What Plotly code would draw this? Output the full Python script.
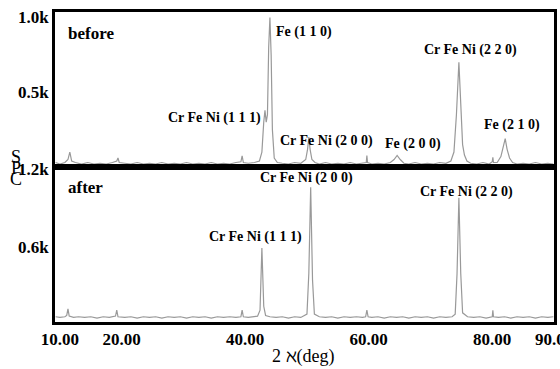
import plotly.graph_objects as go
from plotly.subplots import make_subplots

# ---- data (2theta in deg, intensity in k counts) ----
before_x = [9.3, 10.0, 10.8, 11.3, 11.6, 11.9, 12.5, 13.5, 14.5, 15.5, 16.5, 17.5, 18.5, 19.2, 19.4, 19.6,
            20.5, 21.5, 22.5, 23.5, 24.5, 25.5, 26.5, 27.5, 28.5, 29.5, 30.5, 31.5, 32.5, 33.5, 34.5, 35.5,
            36.5, 37.5, 38.5, 39.3, 39.5, 39.7, 40.5, 41.5, 42.3, 42.7, 43.0, 43.2, 43.4, 43.6, 43.8, 44.0,
            44.2, 44.4, 44.7, 45.2, 46.0, 47.0, 48.0, 49.0, 49.8, 50.1, 50.3, 50.5, 50.8, 51.3, 52.0, 53.0,
            54.0, 55.0, 56.0, 57.0, 58.0, 59.0, 59.6, 59.7, 59.8, 60.5, 61.5, 62.5, 63.5, 64.1, 64.6, 65.1,
            65.7, 66.5, 67.5, 68.5, 69.5, 70.5, 71.5, 72.5, 73.3, 73.8, 74.2, 74.6, 74.9, 75.2, 75.5, 75.9,
            76.5, 77.5, 78.5, 79.5, 80.0, 80.1, 80.2, 80.8, 81.4, 81.8, 82.1, 82.4, 82.8, 83.3, 84.0, 85.0,
            86.0, 87.0, 88.0, 89.0, 89.9]
before_y = [0.03, 0.02, 0.03, 0.05, 0.10, 0.04, 0.03, 0.02, 0.03, 0.02, 0.025, 0.02, 0.03, 0.04, 0.06, 0.03,
            0.025, 0.02, 0.03, 0.02, 0.025, 0.02, 0.03, 0.02, 0.025, 0.02, 0.03, 0.02, 0.025, 0.02, 0.03, 0.02,
            0.025, 0.02, 0.03, 0.035, 0.075, 0.03, 0.025, 0.03, 0.04, 0.10, 0.30, 0.38, 0.30, 0.35, 0.80, 1.0,
            0.75, 0.25, 0.06, 0.03, 0.025, 0.02, 0.03, 0.025, 0.05, 0.12, 0.20, 0.12, 0.05, 0.03, 0.02, 0.03,
            0.02, 0.025, 0.02, 0.03, 0.02, 0.025, 0.03, 0.077, 0.03, 0.02, 0.025, 0.02, 0.03, 0.05, 0.077, 0.05,
            0.025, 0.02, 0.03, 0.02, 0.025, 0.02, 0.03, 0.025, 0.04, 0.10, 0.35, 0.70, 0.40, 0.15, 0.08, 0.04,
            0.025, 0.02, 0.03, 0.02, 0.035, 0.064, 0.03, 0.03, 0.07, 0.15, 0.19, 0.12, 0.06, 0.03, 0.02, 0.025,
            0.02, 0.03, 0.02, 0.025, 0.02]

after_x = [9.3, 10.0, 10.8, 11.1, 11.3, 11.5, 12.2, 13.0, 14.0, 15.0, 16.0, 17.0, 18.0, 19.0, 19.2, 19.4,
           20.5, 21.5, 22.5, 23.5, 24.5, 25.5, 26.5, 27.5, 28.5, 29.5, 30.5, 31.5, 32.5, 33.5, 34.5, 35.5,
           36.5, 37.5, 38.5, 39.3, 39.5, 39.7, 40.5, 41.5, 42.0, 42.4, 42.7, 43.0, 43.3, 44.0, 45.0, 46.0,
           47.0, 48.0, 49.0, 50.0, 50.3, 50.6, 50.9, 51.2, 52.0, 53.0, 54.0, 55.0, 56.0, 57.0, 58.0, 59.0,
           59.5, 59.7, 59.9, 60.5, 61.5, 62.5, 63.5, 64.5, 65.5, 66.5, 67.5, 68.5, 69.5, 70.5, 71.5, 72.5,
           73.5, 74.0, 74.3, 74.6, 74.9, 75.2, 76.0, 77.0, 78.0, 79.0, 80.0, 80.1, 80.2, 81.0, 82.0, 83.0,
           84.0, 85.0, 86.0, 87.0, 88.0, 89.0, 89.9]
after_y = [0.07, 0.065, 0.07, 0.08, 0.13, 0.075, 0.065, 0.07, 0.065, 0.07, 0.06, 0.07, 0.065, 0.075, 0.12, 0.07,
           0.065, 0.07, 0.06, 0.07, 0.065, 0.07, 0.06, 0.07, 0.065, 0.07, 0.06, 0.07, 0.065, 0.07, 0.06, 0.07,
           0.065, 0.07, 0.065, 0.07, 0.12, 0.07, 0.065, 0.07, 0.075, 0.12, 0.596, 0.15, 0.08, 0.07, 0.065, 0.07,
           0.06, 0.07, 0.065, 0.09, 0.40, 1.06, 0.35, 0.09, 0.07, 0.065, 0.07, 0.06, 0.07, 0.065, 0.07, 0.065,
           0.07, 0.12, 0.07, 0.065, 0.07, 0.06, 0.07, 0.065, 0.07, 0.06, 0.07, 0.065, 0.07, 0.06, 0.07, 0.065,
           0.07, 0.09, 0.40, 0.98, 0.40, 0.10, 0.07, 0.065, 0.07, 0.06, 0.07, 0.12, 0.07, 0.065, 0.07, 0.06,
           0.07, 0.065, 0.07, 0.06, 0.07, 0.065, 0.07]

x_ticks = [10, 20, 40, 60, 80, 90]
x_tick_labels = ["10.00", "20.00", "40.00", "60.00", "80.00", "90.00"]
top_ticks = [0.5, 1.0]
top_tick_labels = ["0.5k", "1.0k"]
bot_ticks = [0.6, 1.2]
bot_tick_labels = ["0.6k", "1.2k"]

before_labels = [("Fe (1 1 0)", 49.5, 0.903), ("Cr Fe Ni (1 1 1)", 35.1, 0.328),
                 ("Cr Fe Ni (2 0 0)", 53.1, 0.174), ("Fe (2 0 0)", 67.2, 0.154),
                 ("Cr Fe Ni (2 2 0)", 76.4, 0.783), ("Fe (2 1 0)", 83.2, 0.281)]
after_labels = [("Cr Fe Ni (2 0 0)", 49.9, 1.131), ("Cr Fe Ni (2 2 0)", 75.8, 1.024),
                ("Cr Fe Ni (1 1 1)", 41.6, 0.680)]
y_title_letters = ["S", "P", "C"]
x_title = "2 ℵ(deg)"

SERIF = "Liberation Serif, Times New Roman, serif"
LINE = "#999999"
W, H = 560, 369
ML, MR, MT, MB = 55, 6, 12, 47
PW, PH = W - ML - MR, H - MT - MB


def px_to_paper(px, py):
    return (px - ML) / PW, (H - MB - py) / PH


fig = make_subplots(rows=2, cols=1, shared_xaxes=True, vertical_spacing=0)
fig.add_trace(go.Scatter(x=before_x, y=before_y, mode="lines",
                         line=dict(color=LINE, width=1.2), showlegend=False), row=1, col=1)
fig.add_trace(go.Scatter(x=after_x, y=after_y, mode="lines",
                         line=dict(color=LINE, width=1.2), showlegend=False), row=2, col=1)

axis_common = dict(showline=True, linewidth=3, linecolor="black", mirror=True,
                   showgrid=False, zeroline=False, ticks="", automargin=False)
tfont = dict(family=SERIF, size=17, color="black", weight="bold")
fig.update_xaxes(**axis_common, range=[9.2, 90.0])
fig.update_xaxes(showticklabels=False, row=1, col=1)
fig.update_xaxes(tickvals=x_ticks, ticktext=x_tick_labels, ticklabelstandoff=0,
                 ticklabeloverflow="allow", tickfont=tfont, row=2, col=1)
fig.update_yaxes(**axis_common)
fig.update_yaxes(range=[0.0, 1.037], tickvals=top_ticks, ticktext=top_tick_labels, ticklabelstandoff=0,
                 ticklabeloverflow="allow", tickfont=tfont, row=1, col=1)
fig.update_yaxes(range=[0.03, 1.215], tickvals=bot_ticks, ticktext=bot_tick_labels, ticklabelstandoff=0,
                 ticklabeloverflow="allow", tickfont=tfont, row=2, col=1)

ann = []
ann.append(dict(text="<b>before</b>", x=15.0, y=0.896, xref="x", yref="y", showarrow=False,
                font=dict(family=SERIF, size=17, color="black")))
ann.append(dict(text="<b>after</b>", x=14.1, y=1.055, xref="x2", yref="y2", showarrow=False,
                font=dict(family=SERIF, size=17, color="black")))
for t, x, y in before_labels:
    ann.append(dict(text="<b>" + t + "</b>", x=x, y=y, xref="x", yref="y", showarrow=False,
                    font=dict(family=SERIF, size=14, color="black")))
for t, x, y in after_labels:
    ann.append(dict(text="<b>" + t + "</b>", x=x, y=y, xref="x2", yref="y2", showarrow=False,
                    font=dict(family=SERIF, size=14, color="black")))
for ch, py in zip(y_title_letters, [157, 168, 179]):
    px_, py_ = px_to_paper(16, py)
    ann.append(dict(text=ch, x=px_, y=py_, xref="paper", yref="paper", showarrow=False,
                    xanchor="center", yanchor="middle",
                    font=dict(family=SERIF, size=18, color="black")))
tx, ty = px_to_paper(303, 357)
ann.append(dict(text=x_title, x=tx, y=ty, xref="paper", yref="paper", showarrow=False,
                xanchor="center", yanchor="middle",
                font=dict(family=SERIF, size=18, color="black")))

fig.update_layout(width=W, height=H, margin=dict(l=ML, r=MR, t=MT, b=MB, autoexpand=False),
                  paper_bgcolor="white", plot_bgcolor="white", annotations=ann)

fig.write_html("out.html", config={"displayModeBar": False},
               post_script="document.body.style.margin='0';")
